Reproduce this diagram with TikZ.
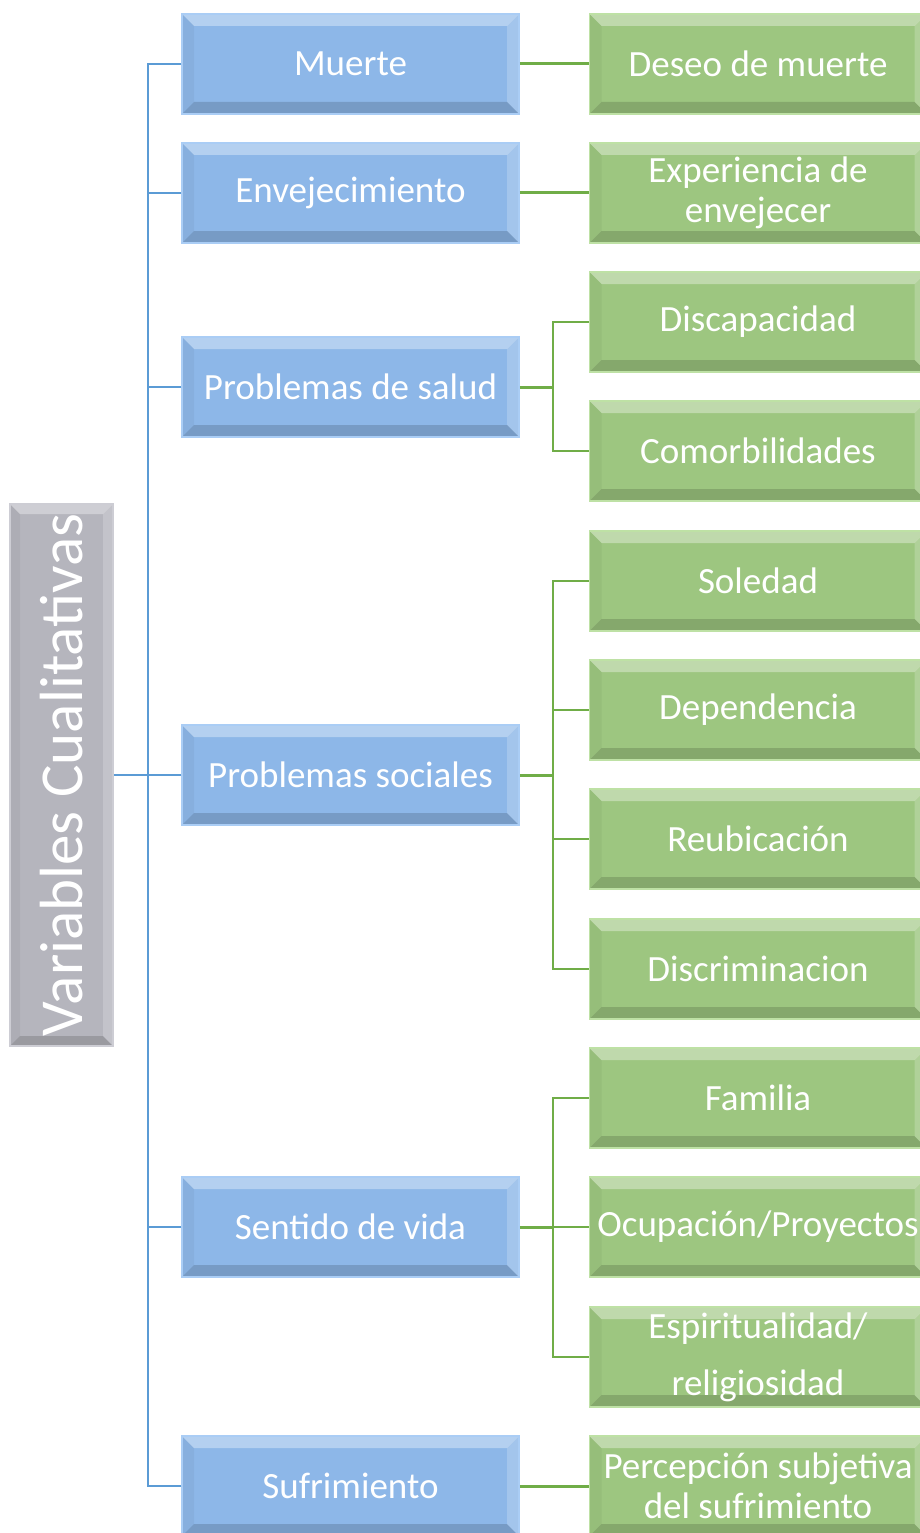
\documentclass[tikz,border=0pt]{standalone}
\usepackage{fontspec}
\setmainfont{Carlito}
\definecolor{bfill}{RGB}{141,183,232}
\definecolor{bedge}{RGB}{170,205,245}
\definecolor{gfill}{RGB}{157,198,128}
\definecolor{gedge}{RGB}{190,225,165}
\definecolor{kfill}{RGB}{181,181,189}
\definecolor{kedge}{RGB}{205,205,212}
\definecolor{bline}{RGB}{91,155,213}
\definecolor{gline}{RGB}{112,173,71}
\tikzset{
  bevel/.style={path picture={
    \fill[white,opacity=.35] (path picture bounding box.north west) -- (path picture bounding box.north east)
      -- ([xshift=-#1,yshift=-#1]path picture bounding box.north east) -- ([xshift=#1,yshift=-#1]path picture bounding box.north west) -- cycle;
    \fill[white,opacity=.2] (path picture bounding box.north east) -- (path picture bounding box.south east)
      -- ([xshift=-#1,yshift=#1]path picture bounding box.south east) -- ([xshift=-#1,yshift=-#1]path picture bounding box.north east) -- cycle;
    \fill[black,opacity=.15] (path picture bounding box.south west) -- (path picture bounding box.south east)
      -- ([xshift=-#1,yshift=#1]path picture bounding box.south east) -- ([xshift=#1,yshift=#1]path picture bounding box.south west) -- cycle;
    \fill[black,opacity=.04] (path picture bounding box.north west) -- (path picture bounding box.south west)
      -- ([xshift=#1,yshift=#1]path picture bounding box.south west) -- ([xshift=#1,yshift=-#1]path picture bounding box.north west) -- cycle;
  }},
  box/.style={rectangle, line width=1.5pt, text=white, align=center, inner sep=2pt,
    minimum width=337pt, minimum height=100pt, font=\fontsize{37}{40}\selectfont, bevel=12pt},
  blubox/.style={box, fill=bfill, draw=bedge},
  grnbox/.style={box, fill=gfill, draw=gedge},
  grybox/.style={rectangle, line width=1.5pt, fill=kfill, draw=kedge, text=white,
    minimum width=103pt, minimum height=542pt, inner sep=0pt, font=\fontsize{61}{61}\selectfont, bevel=10pt},
  bwire/.style={draw=bline, line width=2pt},
  gwire/.style={draw=gline, line width=2pt},
  gtrunk/.style={draw=gline, line width=3pt}
}

\begin{document}
\begin{tikzpicture}[x=1pt, y=-1pt]
  \useasboundingbox (0,0) rectangle (920,1533);
  \clip (0,0) rectangle (920,1533);
  % left title
  \node[grybox] (vc) at(61.5,775){\rotatebox{90}{Variables Cualitativas}};
  % blue level
  \node[blubox] (mu) at(350.5,64){Muerte};
  \node[blubox] (en) at(350.5,193){Envejecimiento};
  \node[blubox] (ps) at(350.5,387){Problemas de salud};
  \node[blubox] (so) at(350.5,775){Problemas sociales};
  \node[blubox] (sv) at(350.5,1227){Sentido de vida};
  \node[blubox] (su) at(350.5,1486){Sufrimiento};
  % green level
  \node[grnbox] (dm) at(758,64){Deseo de muerte};
  \node[grnbox] (ex) at(758,193){Experiencia de\\envejecer};
  \node[grnbox] (di) at(758,322){Discapacidad};
  \node[grnbox] (co) at(758,451){Comorbilidades};
  \node[grnbox] (sl) at(758,581){Soledad};
  \node[grnbox] (de) at(758,710){Dependencia};
  \node[grnbox] (re) at(758,839){Reubicación};
  \node[grnbox] (dc) at(758,969){Discriminacion};
  \node[grnbox] (fa) at(758,1098){Familia};
  \node[grnbox] (oc) at(758,1227){Ocupación/Proyectos};
  \node[grnbox, font=\fontsize{37}{57}\selectfont] (es) at(758,1357){Espiritualidad/\\religiosidad};
  \node[grnbox] (pe) at(758,1486){Percepción subjetiva\\del sufrimiento};
  % blue wires
  \coordinate (trk) at(148,775);
  \draw[bwire] (vc.east) -- (trk);
  \foreach \n in {mu,en,ps,so,sv,su}
    \draw[bwire] (\n.west) -| (trk);
  % green wires
  \draw[gtrunk] (mu.east) -- (dm.west);
  \draw[gtrunk] (en.east) -- (ex.west);
  \draw[gtrunk] (su.east) -- (pe.west);
  \coordinate (jps) at(553,387);
  \coordinate (jso) at(553,775);
  \coordinate (jsv) at(553,1227);
  \draw[gtrunk] (ps.east) -- (jps);
  \draw[gtrunk] (so.east) -- (jso);
  \draw[gtrunk] (sv.east) -- (jsv);
  \foreach \n in {di,co}
    \draw[gwire] (\n.west) -| (jps);
  \foreach \n in {sl,de,re,dc}
    \draw[gwire] (\n.west) -| (jso);
  \foreach \n in {fa,oc,es}
    \draw[gwire] (\n.west) -| (jsv);
\end{tikzpicture}
\end{document}
